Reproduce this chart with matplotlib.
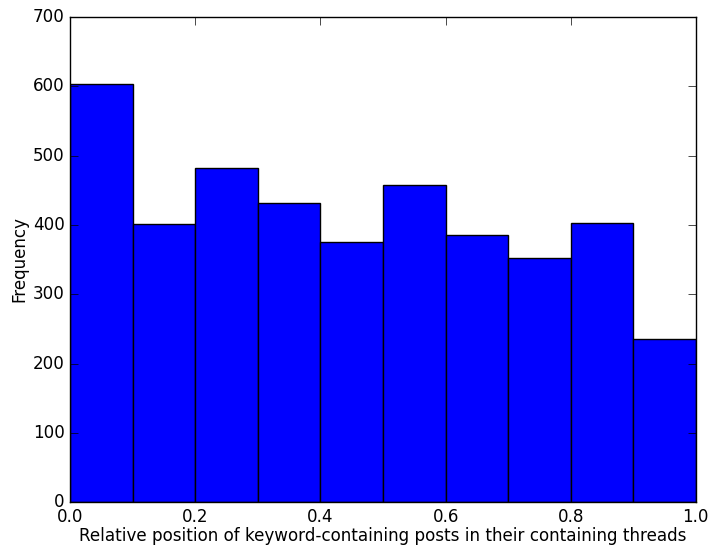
import matplotlib
matplotlib.use("Agg")
import matplotlib.pyplot as plt
import numpy as np

plt.style.use("classic")

# Histogram of relative post positions (10 equal-width bins over [0, 1])
bin_edges = [0.0, 0.1, 0.2, 0.3, 0.4, 0.5, 0.6, 0.7, 0.8, 0.9, 1.0]
counts = [603, 401, 482, 432, 376, 457, 385, 352, 403, 235]

x_ticks = [0.0, 0.2, 0.4, 0.6, 0.8, 1.0]
y_ticks = [0, 100, 200, 300, 400, 500, 600, 700]

fig = plt.figure(figsize=(7.10, 5.47), dpi=100, facecolor="white")
ax = fig.add_axes([0.099, 0.082, 0.881, 0.887])

edges = np.array(bin_edges)
ax.hist(edges[:-1], bins=edges, weights=counts, color="#0000ff",
        edgecolor="black", linewidth=1.0)

ax.set_xlim(0, 1)
ax.set_ylim(0, 700)
ax.set_xticks(x_ticks)
ax.set_yticks(y_ticks)
ax.tick_params(labelsize=12.1, direction="in", top=True, right=True,
               length=6, pad=4)
ax.set_xlabel("Relative position of keyword-containing posts in their containing threads",
              fontsize=12.1, labelpad=1)
ax.set_ylabel("Frequency", fontsize=12.1, labelpad=3)

fig.savefig("out.png", dpi=100, facecolor="white")
